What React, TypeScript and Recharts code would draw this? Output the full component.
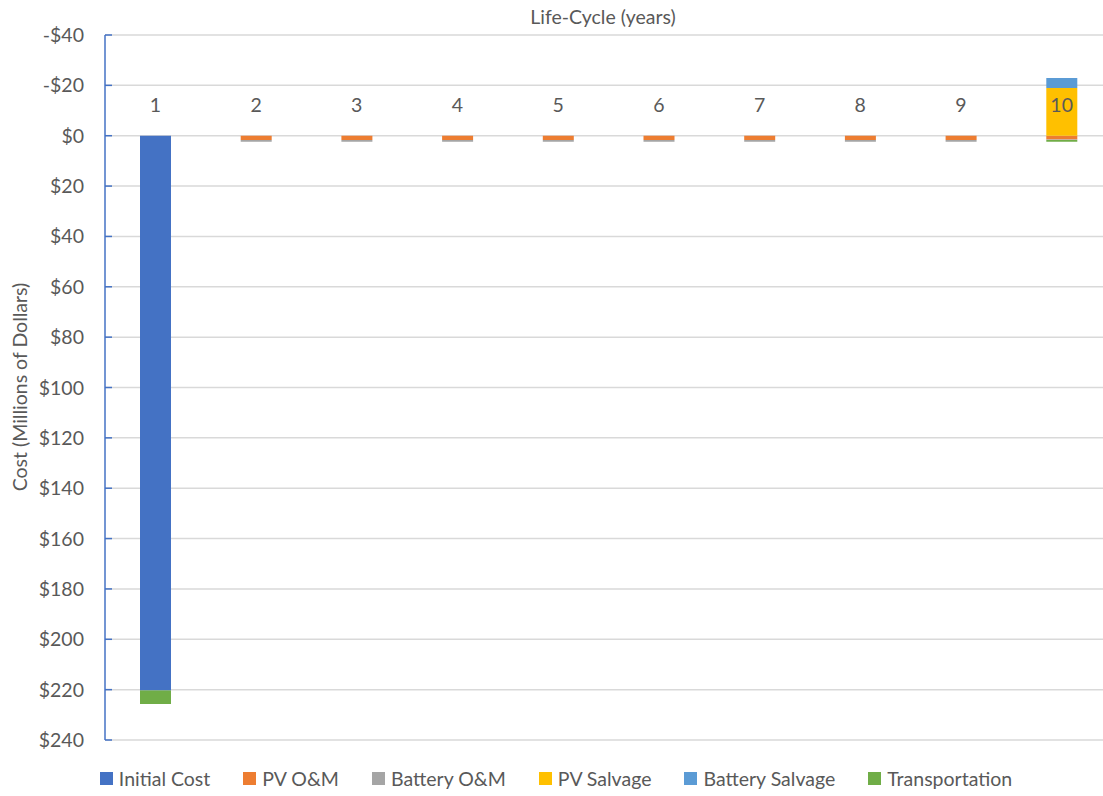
import { BarChart, Bar, XAxis, YAxis, CartesianGrid, Legend } from 'recharts'

const years = ['1', '2', '3', '4', '5', '6', '7', '8', '9', '10']

const initialCost = [220.3, 0, 0, 0, 0, 0, 0, 0, 0, 0]
const pvOM = [0, 1.7, 1.7, 1.7, 1.7, 1.7, 1.7, 1.7, 1.7, 1.5]
const batteryOM = [0, 0.7, 0.7, 0.7, 0.7, 0.7, 0.7, 0.7, 0.7, 0.2]
const pvSalvage = [0, 0, 0, 0, 0, 0, 0, 0, 0, -19]
const batterySalvage = [0, 0, 0, 0, 0, 0, 0, 0, 0, -3.9]
const transportation = [5.4, 0, 0, 0, 0, 0, 0, 0, 0, 0.7]

const yTicks = [-40, -20, 0, 20, 40, 60, 80, 100, 120, 140, 160, 180, 200, 220, 240]

const SERIES = [
  { key: 'initialCost', name: 'Initial Cost', color: '#4472C4' },
  { key: 'pvOM', name: 'PV O&M', color: '#ED7D31' },
  { key: 'batteryOM', name: 'Battery O&M', color: '#A5A5A5' },
  { key: 'pvSalvage', name: 'PV Salvage', color: '#FFC000' },
  { key: 'batterySalvage', name: 'Battery Salvage', color: '#5B9BD5' },
  { key: 'transportation', name: 'Transportation', color: '#70AD47' },
]

const data = years.map((year, i) => ({
  year,
  initialCost: initialCost[i],
  pvOM: pvOM[i],
  batteryOM: batteryOM[i],
  pvSalvage: pvSalvage[i],
  batterySalvage: batterySalvage[i],
  transportation: transportation[i],
}))

const FONT = 'Lato, "Open Sans", sans-serif'
const FS = 19.5
const TEXT = '#595959'
const AXIS_X = 105
const PLOT_TOP = 35
const PLOT_BOTTOM = 739
const ZERO_Y = PLOT_TOP + ((0 - -40) / 280) * (PLOT_BOTTOM - PLOT_TOP)

const fmtMoney = (v: number) => (v < 0 ? `-$${-v}` : `$${v}`)

function YTick({ y, payload }: any) {
  return (
    <g>
      <line x1={AXIS_X} x2={AXIS_X + 7} y1={y} y2={y} stroke="#4472C4" strokeWidth={1.5} />
      <text x={AXIS_X - 21} y={y} dy={7} textAnchor="end" fill={TEXT} fontSize={FS} fontFamily={FONT}>
        {fmtMoney(payload.value)}
      </text>
    </g>
  )
}

function XTick({ x, payload }: any) {
  return (
    <text x={x} y={ZERO_Y - 31} dy={7} textAnchor="middle" fill={TEXT} fontSize={FS} fontFamily={FONT}>
      {payload.value}
    </text>
  )
}

function LegendContent() {
  return (
    <div style={{ display: 'flex', justifyContent: 'center', gap: 33, fontFamily: FONT, fontSize: FS, color: TEXT }}>
      {SERIES.map(s => (
        <div key={s.key} style={{ display: 'flex', alignItems: 'center' }}>
          <span style={{ display: 'inline-block', width: 13, height: 13, background: s.color, marginRight: 6 }} />
          <span>{s.name}</span>
        </div>
      ))}
    </div>
  )
}

export default function App() {
  return (
    <div style={{ position: 'absolute', left: 0, top: 0, width: 1103, height: 796, overflow: 'hidden', background: '#fff' }}>
      <BarChart
        width={1112}
        height={796}
        data={data}
        stackOffset="sign"
        margin={{ top: 5, right: 0, bottom: 30, left: 0 }}
        barSize={31}
      >
        <CartesianGrid vertical={false} stroke="#D9D9D9" strokeWidth={1.5} />
        <XAxis
          dataKey="year"
          orientation="top"
          height={PLOT_TOP - 5}
          axisLine={false}
          tickLine={false}
          tick={<XTick />}
          label={{
            content: () => (
              <text x={603} y={17} dy={7} textAnchor="middle" fill={TEXT} fontSize={FS} fontFamily={FONT}>
                Life-Cycle (years)
              </text>
            ),
          }}
        />
        <YAxis
          width={AXIS_X}
          reversed
          domain={[-40, 240]}
          ticks={yTicks}
          interval={0}
          allowDataOverflow
          axisLine={{ stroke: '#4472C4', strokeWidth: 1.5 }}
          tickLine={false}
          tick={<YTick />}
          label={{
            content: () => (
              <text
                x={20}
                y={387}
                transform="rotate(-90 20 387)"
                dy={7}
                textAnchor="middle"
                fill={TEXT}
                fontSize={FS}
                fontFamily={FONT}
              >
                Cost (Millions of Dollars)
              </text>
            ),
          }}
        />
        {SERIES.map(s => (
          <Bar key={s.key} dataKey={s.key} name={s.name} stackId="a" fill={s.color} isAnimationActive={false} />
        ))}
        <Legend
          verticalAlign="bottom"
          content={<LegendContent />}
          wrapperStyle={{ position: 'absolute', top: 767, left: 0, width: 1112, height: 26 }}
        />
      </BarChart>
    </div>
  )
}
